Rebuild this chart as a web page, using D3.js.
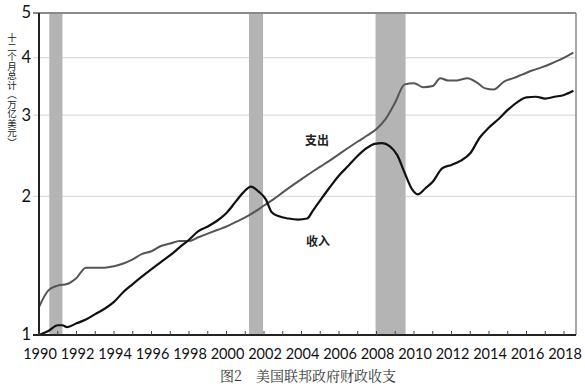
<!DOCTYPE html>
<html>
<head>
<meta charset="utf-8">
<script src="https://cdn.jsdelivr.net/npm/d3@7"></script>
<style>
  html, body { margin: 0; padding: 0; background: #fff; }
  svg { display: block; }
</style>
</head>
<body>
<svg id="chart" width="585" height="386"></svg>
<script>
// ---- data ----
// 支出 (spending), trillion USD, 12-month total
const spendDates = [
  1990.0,1990.5,1991.0,1991.5,1992.0,1992.5,1993.0,1993.5,1994.0,1994.5,
  1995.0,1995.5,1996.0,1996.5,1997.0,1997.5,1998.0,1998.5,1999.0,1999.5,
  2000.0,2000.5,2001.0,2001.5,2002.0,2002.5,2003.0,2003.5,2004.0,2004.5,
  2005.0,2005.5,2006.0,2006.5,2007.0,2007.5,2008.0,2008.5,2009.0,2009.5,
  2010.0,2010.5,2011.0,2011.4,2011.8,2012.3,2012.85,2013.4,2013.8,2014.25,
  2014.8,2015.3,2015.8,2016.3,2016.8,2017.3,2017.8,2018.5
];
const spending = [
  1.15,1.25,1.28,1.29,1.33,1.40,1.40,1.40,1.41,1.43,
  1.46,1.50,1.52,1.56,1.58,1.60,1.60,1.63,1.66,1.69,
  1.72,1.76,1.80,1.85,1.91,1.97,2.04,2.11,2.18,2.25,
  2.32,2.39,2.47,2.55,2.63,2.71,2.80,2.95,3.20,3.50,
  3.52,3.45,3.47,3.61,3.57,3.57,3.61,3.52,3.43,3.41,
  3.55,3.61,3.68,3.75,3.81,3.88,3.96,4.10
];
// 收入 (revenue)
const revDates = [
  1990.0,1990.5,1991.0,1991.25,1991.5,1992.0,1992.5,1993.0,1993.5,1994.0,
  1994.5,1995.0,1995.5,1996.0,1996.5,1997.0,1997.5,1998.0,1998.5,1999.0,
  1999.5,2000.0,2000.5,2000.9,2001.3,2001.7,2002.1,2002.4,2002.8,2003.3,
  2003.8,2004.3,2004.6,2005.0,2005.5,2006.0,2006.5,2007.0,2007.5,2007.9,
  2008.3,2008.7,2009.1,2009.5,2009.9,2010.2,2010.6,2011.0,2011.5,2012.0,
  2012.5,2013.0,2013.5,2014.0,2014.5,2015.0,2015.5,2016.0,2016.5,2017.0,
  2017.5,2018.0,2018.5
];
const revenue = [
  1.00,1.02,1.05,1.05,1.04,1.06,1.08,1.11,1.14,1.18,
  1.24,1.29,1.34,1.39,1.44,1.49,1.55,1.61,1.68,1.72,
  1.77,1.84,1.95,2.04,2.10,2.05,1.97,1.85,1.81,1.79,
  1.78,1.79,1.86,1.96,2.09,2.22,2.33,2.45,2.55,2.60,
  2.61,2.57,2.46,2.25,2.07,2.02,2.08,2.15,2.30,2.34,
  2.39,2.48,2.68,2.82,2.94,3.08,3.20,3.28,3.29,3.26,
  3.29,3.32,3.39
];
const recessionStarts = [1990.55, 2001.2, 2007.95];
const recessionEnds   = [1991.25, 2001.95, 2009.55];
const yTicks = [1, 2, 3, 4, 5];
const xTickLabels = [1990,1992,1994,1996,1998,2000,2002,2004,2006,2008,2010,2012,2014,2016,2018];
const xMinorTicks = d3.range(1990, 2019, 1);
const yTitle = "十二个月总计（万亿美元）";
const caption = "图2　美国联邦政府财政收支";
const labelSpending = "支出";
const labelRevenue = "收入";

// ---- layout ----
const svg = d3.select("#chart");
const pL = 39, pR = 576, pT = 13, pB = 335;
const x = d3.scaleLinear().domain([1990, 2018]).range([39, 564]);
const y = d3.scaleLog().domain([1, 5]).range([pB, pT]);
const numFont = "Lato, 'DejaVu Sans', sans-serif";
const cjkFont = "'Noto Sans CJK SC', sans-serif";

// gridlines
svg.append("g").selectAll("line").data(yTicks.filter(d => d > 1 && d < 5)).join("line")
  .attr("x1", pL - 6).attr("x2", pR)
  .attr("y1", d => y(d)).attr("y2", d => y(d))
  .attr("stroke", "#dcdcdc").attr("stroke-width", 1.2);

// recession bars
svg.append("g").selectAll("rect").data(recessionStarts).join("rect")
  .attr("x", d => x(d))
  .attr("width", (d, i) => x(recessionEnds[i]) - x(d))
  .attr("y", pT).attr("height", pB - pT)
  .attr("fill", "#b4b4b4");

// frame top/right
svg.append("line").attr("x1", pL - 6).attr("x2", pR).attr("y1", y(5)).attr("y2", y(5))
  .attr("stroke", "#8a8a8a").attr("stroke-width", 2);
svg.append("line").attr("x1", pR).attr("x2", pR).attr("y1", pT).attr("y2", pB)
  .attr("stroke", "#8a8a8a").attr("stroke-width", 1.5);

// lines
const line = (ds, vals) => d3.line()
  .x((d, i) => x(ds[i]))
  .y(d => y(d))
  .curve(d3.curveMonotoneX)(vals);

svg.append("path").attr("d", line(spendDates, spending))
  .attr("fill", "none").attr("stroke", "#555").attr("stroke-width", 2);
svg.append("path").attr("d", line(revDates, revenue))
  .attr("fill", "none").attr("stroke", "#111").attr("stroke-width", 2.2);

// axes
svg.append("line").attr("x1", pL).attr("x2", pL).attr("y1", pT).attr("y2", pB + 1)
  .attr("stroke", "#222").attr("stroke-width", 2);
svg.append("line").attr("x1", pL - 6).attr("x2", pR).attr("y1", pB).attr("y2", pB)
  .attr("stroke", "#222").attr("stroke-width", 2);

// x ticks (inward)
svg.append("g").selectAll("line").data(xMinorTicks).join("line")
  .attr("x1", d => x(d)).attr("x2", d => x(d))
  .attr("y1", pB).attr("y2", pB - 4)
  .attr("stroke", "#444").attr("stroke-width", 1);

// x labels
svg.append("g").selectAll("text").data(xTickLabels).join("text")
  .attr("x", d => x(d) + 1).attr("y", 358.5)
  .attr("text-anchor", "middle")
  .attr("font-family", numFont).attr("font-size", 14.5)
  .attr("fill", "#111")
  .text(d => d);

// y labels
svg.append("g").selectAll("text").data(yTicks).join("text")
  .attr("x", 31).attr("y", d => y(d))
  .attr("dy", "0.33em")
  .attr("text-anchor", "end")
  .attr("font-family", numFont).attr("font-size", 16.5)
  .attr("fill", "#111")
  .text(d => d);

// y title (vertical writing)
svg.append("text")
  .attr("x", 12).attr("y", 33)
  .attr("font-family", cjkFont).attr("font-size", 9.5)
  .attr("fill", "#222")
  .style("writing-mode", "vertical-rl")
  .style("text-orientation", "mixed")
  .text(yTitle);

// series labels
svg.append("text").attr("x", 317).attr("y", 145)
  .attr("text-anchor", "middle").attr("font-family", cjkFont)
  .attr("font-size", 12).attr("font-weight", "bold").attr("fill", "#222")
  .text(labelSpending);
svg.append("text").attr("x", 318).attr("y", 246)
  .attr("text-anchor", "middle").attr("font-family", cjkFont)
  .attr("font-size", 12).attr("font-weight", "bold").attr("fill", "#222")
  .text(labelRevenue);

// caption
svg.append("text").attr("x", 308).attr("y", 381)
  .attr("text-anchor", "middle")
  .attr("font-family", "'Noto Serif CJK SC', 'Noto Sans CJK SC', serif")
  .attr("font-size", 14).attr("fill", "#333")
  .text(caption);
</script>
</body>
</html>
